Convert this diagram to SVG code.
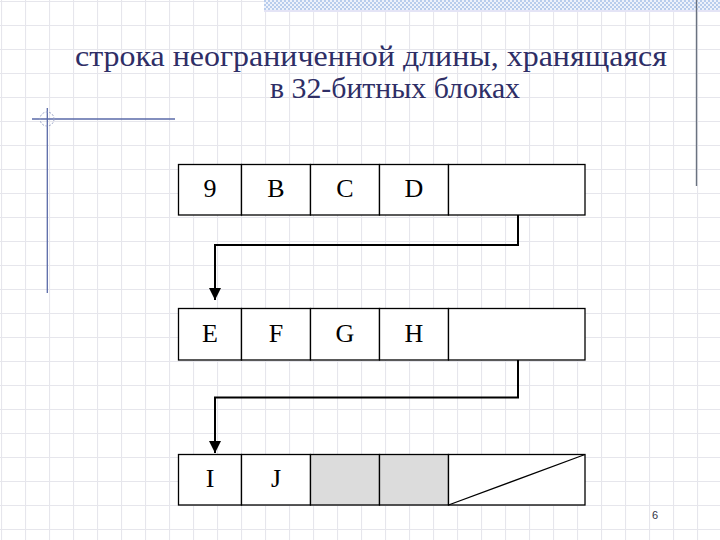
<svg xmlns="http://www.w3.org/2000/svg" width="720" height="540" viewBox="0 0 720 540">
  <defs>
    <pattern id="grid" x="1" y="1" width="24" height="24" patternUnits="userSpaceOnUse">
      <path d="M0 0.5 H24 M0.5 0 V24" fill="none" stroke="#e6e6ec" stroke-width="1.2"/>
    </pattern>
    <pattern id="checker" x="0" y="0" width="4" height="4" patternUnits="userSpaceOnUse">
      <rect width="4" height="4" fill="#eef2fb"/>
      <rect width="2" height="2" fill="#b9cdec"/>
      <rect x="2" y="2" width="2" height="2" fill="#b9cdec"/>
    </pattern>
    <marker id="arrow" viewBox="0 0 10 10" refX="10" refY="5" markerWidth="6" markerHeight="6" orient="auto" markerUnits="strokeWidth">
      <path d="M0 0 L10 5 L0 10 Z" fill="#000"/>
    </marker>
    <style>
      .cell { fill: #ffffff; stroke: #000; stroke-width: 1.3; }
      .gray { fill: #dcdcdc; stroke: #000; stroke-width: 1.3; }
      .conn { fill: none; stroke: #000; stroke-width: 2; }
      .deco { stroke: #5a6aa8; stroke-width: 1.3; fill: none; }
      .lbl { font-family: 'Liberation Serif', serif; font-size: 26px; fill: #000; text-anchor: middle; }
      .title { font-family: 'Liberation Serif', serif; font-size: 30px; fill: #2e2e66; }
    </style>
  </defs>

  <g id="background">
    <rect width="720" height="540" fill="#ffffff"/>
    <rect width="720" height="540" fill="url(#grid)"/>
    <rect x="264" y="0" width="456" height="10" fill="url(#checker)"/>
    <rect x="264" y="10" width="456" height="2" fill="#e4e4f6"/>
    <line x1="696.5" y1="0" x2="696.5" y2="186" stroke="#6a7280" stroke-width="1.4"/>
    <line class="deco" x1="32" y1="119" x2="175" y2="119"/>
    <line class="deco" x1="47.3" y1="108" x2="47.3" y2="293"/>
    <circle cx="47" cy="119" r="7" fill="none" stroke="#9aa4c8" stroke-width="1" stroke-dasharray="2 1.5"/>
  </g>

  <g id="title">
    <text class="title" x="75" y="66" textLength="592" lengthAdjust="spacingAndGlyphs">строка неограниченной длины, хранящаяся</text>
    <text class="title" x="270" y="98" textLength="250" lengthAdjust="spacingAndGlyphs">в 32-битных блоках</text>
  </g>

  <g id="block1">
    <rect class="cell" x="178.5" y="164.5" width="63" height="50.5"/>
    <rect class="cell" x="241.5" y="164.5" width="69" height="50.5"/>
    <rect class="cell" x="310.5" y="164.5" width="69" height="50.5"/>
    <rect class="cell" x="379.5" y="164.5" width="69" height="50.5"/>
    <rect class="cell" x="448.5" y="164.5" width="136.5" height="50.5"/>
    <text class="lbl" x="210" y="197">9</text>
    <text class="lbl" x="276" y="197">B</text>
    <text class="lbl" x="345" y="197">C</text>
    <text class="lbl" x="414" y="197">D</text>
  </g>

  <g id="block2">
    <rect class="cell" x="178.5" y="308.5" width="63" height="51.5"/>
    <rect class="cell" x="241.5" y="308.5" width="69" height="51.5"/>
    <rect class="cell" x="310.5" y="308.5" width="69" height="51.5"/>
    <rect class="cell" x="379.5" y="308.5" width="69" height="51.5"/>
    <rect class="cell" x="448.5" y="308.5" width="136.5" height="51.5"/>
    <text class="lbl" x="210" y="342">E</text>
    <text class="lbl" x="276" y="342">F</text>
    <text class="lbl" x="345" y="342">G</text>
    <text class="lbl" x="414" y="342">H</text>
  </g>

  <g id="block3">
    <rect class="cell" x="178.5" y="454.5" width="63" height="50.5"/>
    <rect class="cell" x="241.5" y="454.5" width="69" height="50.5"/>
    <rect class="gray" x="310.5" y="454.5" width="69" height="50.5"/>
    <rect class="gray" x="379.5" y="454.5" width="69" height="50.5"/>
    <rect class="cell" x="448.5" y="454.5" width="136.5" height="50.5"/>
    <line x1="448.5" y1="505" x2="585" y2="454.5" stroke="#000" stroke-width="1.2"/>
    <text class="lbl" x="210" y="487">I</text>
    <text class="lbl" x="276" y="487">J</text>
  </g>

  <g id="connectors">
    <path class="conn" d="M518 215 V245 H215 V300" marker-end="url(#arrow)"/>
    <path class="conn" d="M518 360 V397.5 H215 V453" marker-end="url(#arrow)"/>
  </g>

  <text x="655" y="519" font-family="Liberation Sans" font-size="11" fill="#333344" text-anchor="middle">6</text>
</svg>
